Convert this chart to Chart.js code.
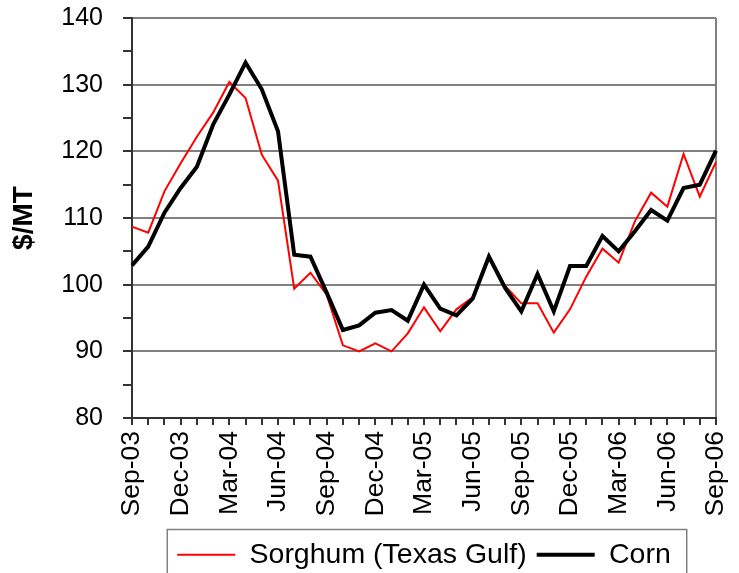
<!DOCTYPE html>
<html>
<head>
<meta charset="utf-8">
<script src="https://cdn.jsdelivr.net/npm/chart.js@4.4.1/dist/chart.umd.min.js"></script>
<style>
  html, body { margin: 0; padding: 0; background: #fff; }
  #wrap { width: 739px; height: 573px; }
</style>
</head>
<body>
<div id="wrap"><canvas id="priceChart" width="739" height="573"></canvas></div>
<script>
// monthly prices, $/MT
var months = ['Sep-03','Oct-03','Nov-03','Dec-03','Jan-04','Feb-04','Mar-04','Apr-04','May-04','Jun-04',
  'Jul-04','Aug-04','Sep-04','Oct-04','Nov-04','Dec-04','Jan-05','Feb-05','Mar-05','Apr-05','May-05',
  'Jun-05','Jul-05','Aug-05','Sep-05','Oct-05','Nov-05','Dec-05','Jan-06','Feb-06','Mar-06','Apr-06',
  'May-06','Jun-06','Jul-06','Aug-06','Sep-06'];
var sorghum = [108.7, 107.8, 114.0, 118.2, 122.2, 125.8, 130.4, 128.0, 119.5, 115.6,
  99.4, 101.8, 98.5, 90.9, 90.0, 91.2, 90.0, 92.7, 96.6, 93.0, 96.3,
  98.1, 104.5, 99.8, 97.2, 97.2, 92.8, 96.3, 101.2, 105.4, 103.3, 109.5,
  113.8, 111.7, 119.6, 113.2, 118.4];
var corn = [102.9, 105.7, 110.8, 114.5, 117.7, 124.0, 128.5, 133.3, 129.3, 123.0,
  104.5, 104.2, 98.8, 93.2, 93.9, 95.8, 96.2, 94.6, 100.0, 96.4, 95.4,
  97.9, 104.2, 99.5, 96.0, 101.6, 96.0, 102.8, 102.8, 107.3, 105.0, 108.0,
  111.2, 109.6, 114.5, 115.0, 120.1];
var yMin = 80, yMax = 140, yStep = 5, yLabelStep = 10;
var labelEvery = 3;

var FONT = 'Arial, "Liberation Sans", sans-serif';

// box round the legend
var legendFrame = {
    id: 'legendFrame',
    afterDraw: function (chart) {
        var lg = chart.legend;
        if (!lg || !lg.legendHitBoxes || !lg.legendHitBoxes.length) return;
        var boxes = lg.legendHitBoxes;
        var first = boxes[0], last = boxes[boxes.length - 1];
        var x0 = first.left - 10;
        var x1 = last.left + last.width + 16;
        var y0 = first.top - 11;
        var ctx = chart.ctx;
        ctx.save();
        ctx.strokeStyle = '#808080';
        ctx.lineWidth = 1.5;
        ctx.strokeRect(x0, y0, x1 - x0, chart.height + 10 - y0);
        ctx.restore();
    }
};

document.addEventListener('DOMContentLoaded', function () {
    var ctx = document.getElementById('priceChart').getContext('2d');
    new Chart(ctx, {
        type: 'line',
        data: {
            labels: months,
            datasets: [{
                label: 'Sorghum (Texas Gulf)',
                data: sorghum,
                borderColor: '#ff0000',
                backgroundColor: '#ff0000',
                borderWidth: 2,
                pointRadius: 0,
                tension: 0,
                order: 1
            }, {
                label: 'Corn',
                data: corn,
                borderColor: '#000000',
                backgroundColor: '#000000',
                borderWidth: 4,
                pointRadius: 0,
                tension: 0,
                order: 0
            }]
        },
        options: {
            responsive: false,
            animation: false,
            devicePixelRatio: 1,
            layout: { padding: { top: 18, left: 0, right: 23, bottom: -6 } },
            plugins: {
                tooltip: { enabled: false },
                legend: {
                    position: 'bottom',
                    fullSize: false,
                    labels: {
                        usePointStyle: true,
                        pointStyle: 'line',
                        pointStyleWidth: 58,
                        padding: 10,
                        color: '#000',
                        font: { family: FONT, size: 28.5 },
                        sort: function (a, b) { return a.datasetIndex - b.datasetIndex; }
                    }
                }
            },
            scales: {
                x: {
                    type: 'category',
                    offset: false,
                    border: { color: '#333', width: 2 },
                    grid: {
                        drawOnChartArea: true,
                        color: function (c) { return c.index === months.length - 1 ? '#808080' : 'rgba(0,0,0,0)'; },
                        lineWidth: 2,
                        tickLength: 7,
                        tickColor: '#333',
                        tickWidth: 2
                    },
                    ticks: {
                        autoSkip: false,
                        maxRotation: 90,
                        minRotation: 90,
                        padding: 6,
                        color: '#000',
                        font: { family: FONT, size: 26.5 },
                        callback: function (v, i) { return i % labelEvery === 0 ? months[i] : ''; }
                    },
                    afterFit: function (s) {
                        s.height = 112.5;
                        s.paddingLeft = 0;
                        s.paddingRight = 0;
                    }
                },
                y: {
                    min: yMin,
                    max: yMax,
                    border: { color: '#333', width: 2 },
                    grid: {
                        color: function (c) {
                            var v = c.tick ? c.tick.value : 0;
                            return (v % yLabelStep === 0 && v !== yMin) ? '#808080' : 'rgba(0,0,0,0)';
                        },
                        lineWidth: 2,
                        tickLength: 9,
                        tickColor: '#333',
                        tickWidth: 2
                    },
                    ticks: {
                        stepSize: yStep,
                        padding: 20,
                        color: '#000',
                        font: { family: FONT, size: 25 },
                        callback: function (v) { return v % yLabelStep === 0 ? v : ''; }
                    },
                    title: {
                        display: true,
                        text: '$/MT',
                        color: '#000',
                        font: { family: FONT, size: 28, weight: 'bold' },
                        padding: { top: 7, bottom: 0 }
                    },
                    afterFit: function (s) {
                        s.width = 132;
                        s.paddingTop = 0;
                        s.paddingBottom = 0;
                    }
                }
            }
        },
        plugins: [legendFrame]
    });
});
</script>
</body>
</html>
